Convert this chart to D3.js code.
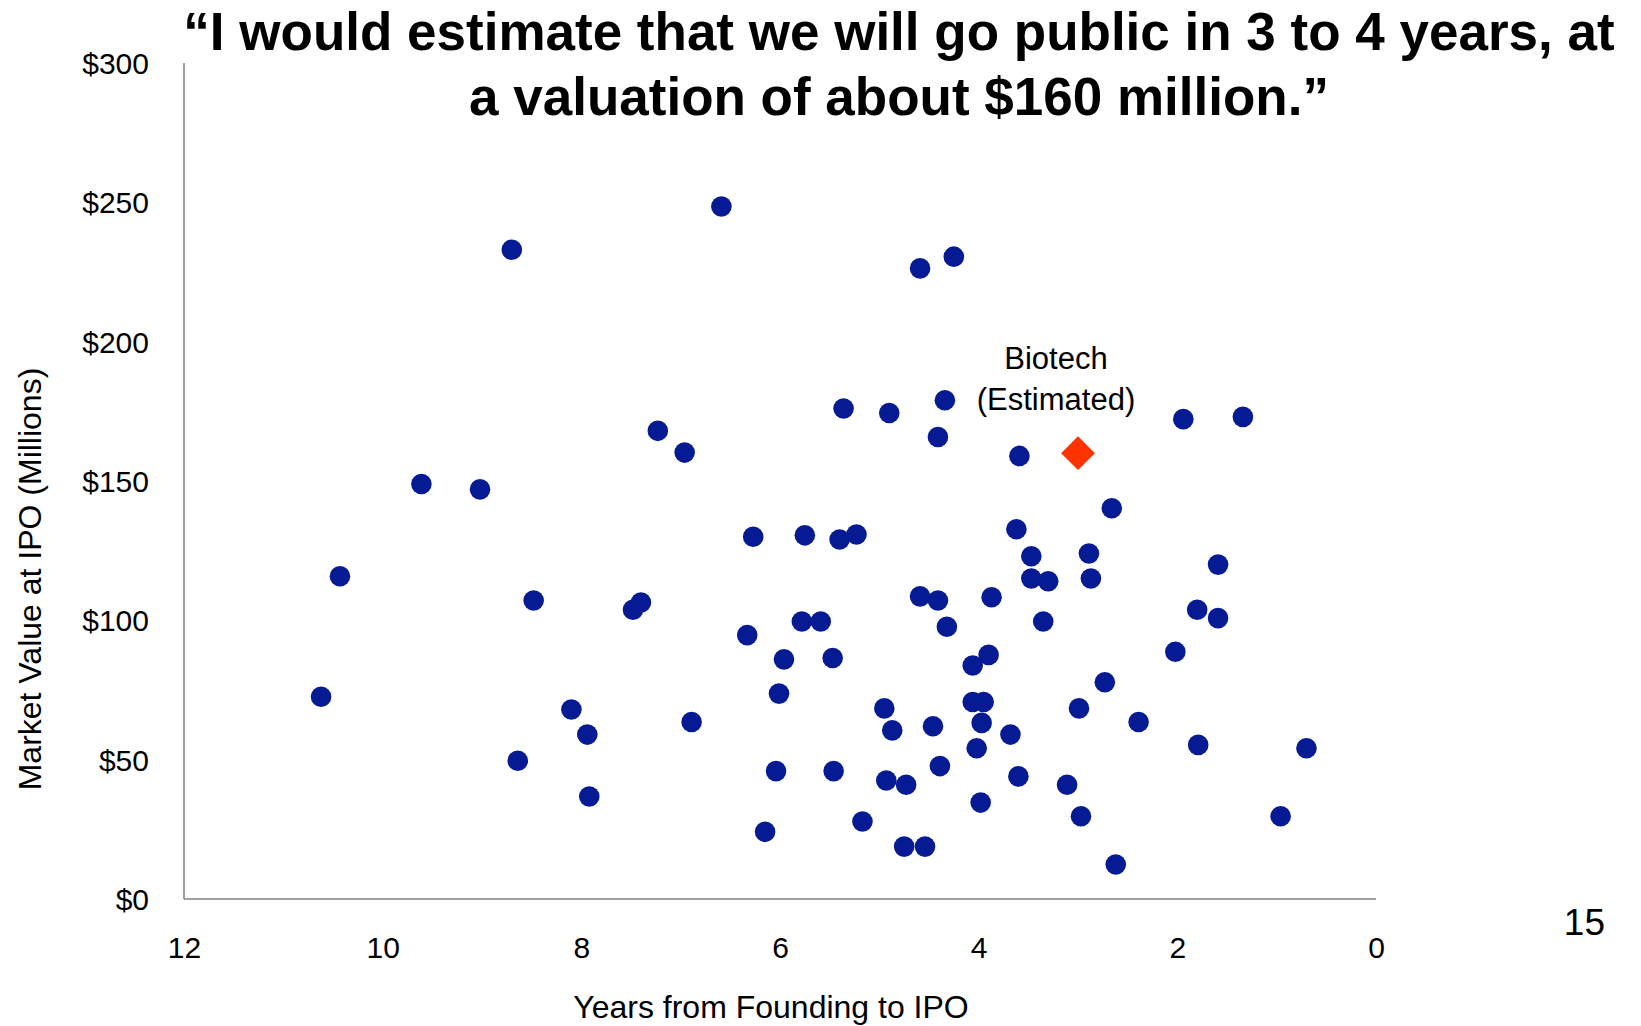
<!DOCTYPE html>
<html>
<head>
<meta charset="utf-8">
<script src="https://cdn.jsdelivr.net/npm/d3@7/dist/d3.min.js"></script>
<style>
  html, body { margin: 0; padding: 0; background: #fff; }
  svg { display: block; font-family: "Liberation Sans", Arial, sans-serif; }
</style>
</head>
<body>
<svg id="chart" width="1641" height="1026"></svg>
<script>
// Years from founding to IPO for each company
const years = [
  6.59, 8.70, 4.59, 4.25, 5.36, 4.90, 4.34, 4.41, 7.23, 6.96,
  9.61, 9.02, 3.59, 1.94, 1.34, 2.66, 10.43, 8.48, 7.48, 7.40,
  6.27, 5.75, 5.40, 5.23, 3.62, 3.47, 3.47, 3.30, 2.89, 2.87,
  1.59, 4.59, 4.41, 3.87, 4.32, 3.35, 1.80, 1.59, 2.02, 6.33,
  5.78, 5.59, 5.96, 5.47, 4.06, 3.90, 10.62, 8.10, 7.94, 6.89,
  6.01, 4.95, 4.87, 4.06, 3.95, 3.97, 4.46, 2.73, 2.99, 2.39,
  3.68, 4.02, 1.79, 0.70, 8.64, 7.92, 6.04, 5.46, 4.93, 4.73,
  4.39, 3.60, 3.11, 3.98, 2.97, 0.96, 6.15, 5.17, 4.75, 4.54,
  2.62
];
// Market value at IPO, $ millions (same order as years)
const values = [
  248.5, 233, 226.3, 230.5, 176, 174.4, 179, 165.8, 168, 160.2,
  148.9, 147, 159, 172.2, 173, 140.2, 115.8, 107.1, 103.8, 106.4,
  130, 130.5, 129, 130.8, 132.7, 123, 115, 114, 124, 115,
  120, 108.6, 107.1, 108.3, 97.7, 99.6, 103.8, 100.8, 88.7, 94.7,
  99.6, 99.6, 86, 86.5, 83.8, 87.6, 72.6, 68, 59, 63.5,
  73.7, 68.4, 60.5, 70.7, 70.7, 63.2, 62, 77.8, 68.4, 63.5,
  59, 54.1, 55.3, 54.1, 49.6, 36.8, 45.9, 45.9, 42.5, 41,
  47.7, 44, 41, 34.6, 29.7, 29.7, 24.1, 27.8, 18.8, 18.8,
  12.4
];
// Estimated biotech outcome
const estimateYears = [3];
const estimateValues = [160];
const estimateLabel = ["Biotech", "(Estimated)"];

const xTicks = [12, 10, 8, 6, 4, 2, 0];
const yTicks = [0, 50, 100, 150, 200, 250, 300];
const titleLines = [
  "\u201CI would estimate that we will go public in 3 to 4 years, at",
  "a valuation of about $160 million.\u201D"
];

const svg = d3.select("#chart");

const x = d3.scaleLinear().domain([12, 0]).range([184, 1376]);
const y = d3.scaleLinear().domain([0, 300]).range([899, 63]);

// Title
svg.append("g").selectAll("text")
  .data(titleLines)
  .join("text")
  .attr("x", 899)
  .attr("y", (d, i) => 50 + i * 65)
  .attr("text-anchor", "middle")
  .attr("font-weight", "bold")
  .attr("font-size", 53)
  .attr("fill", "#000")
  .text(d => d);

// Axis lines
svg.append("line")
  .attr("x1", x(12)).attr("x2", x(12))
  .attr("y1", y(300)).attr("y2", y(0))
  .attr("stroke", "#808080").attr("stroke-width", 1.5);
svg.append("line")
  .attr("x1", x(12)).attr("x2", x(0))
  .attr("y1", y(0)).attr("y2", y(0))
  .attr("stroke", "#808080").attr("stroke-width", 1.5);

// Y tick labels
const yAxis = d3.axisLeft(y).tickValues(yTicks).tickSize(0).tickPadding(35)
  .tickFormat(d => "$" + d);
const gy = svg.append("g").attr("transform", `translate(${x(12)},0)`).call(yAxis);
gy.select(".domain").remove();
gy.selectAll("text")
  .attr("font-family", "Liberation Sans, Arial, sans-serif")
  .attr("font-size", 30)
  .attr("fill", "#000")
  .attr("dy", "0.35em");

// X tick labels
const xAxis = d3.axisBottom(x).tickValues(xTicks).tickSize(0).tickPadding(38)
  .tickFormat(d3.format("d"));
const gx = svg.append("g").attr("transform", `translate(0,${y(0)})`).call(xAxis);
gx.select(".domain").remove();
gx.selectAll("text")
  .attr("font-family", "Liberation Sans, Arial, sans-serif")
  .attr("font-size", 30)
  .attr("fill", "#000");

// Axis titles
svg.append("text")
  .attr("x", 771).attr("y", 1018)
  .attr("text-anchor", "middle")
  .attr("font-size", 32)
  .attr("fill", "#000")
  .text("Years from Founding to IPO");
svg.append("text")
  .attr("transform", "translate(41,579) rotate(-90)")
  .attr("text-anchor", "middle")
  .attr("font-size", 32)
  .attr("fill", "#000")
  .text("Market Value at IPO (Millions)");

// Company points
const pts = years.map((yr, i) => ({ yr, v: values[i] }));
svg.append("g").selectAll("circle")
  .data(pts)
  .join("circle")
  .attr("cx", d => x(d.yr))
  .attr("cy", d => y(d.v))
  .attr("r", 10.3)
  .attr("fill", "#061b93");

// Estimated biotech point
const est = estimateYears.map((yr, i) => ({ yr, v: estimateValues[i] }));
svg.append("g").selectAll("path")
  .data(est)
  .join("path")
  .attr("transform", d => `translate(${x(d.yr)},${y(d.v)})`)
  .attr("d", d3.symbol().type(d3.symbolDiamond2).size(730))
  .attr("fill", "#ff3300");

svg.append("g").selectAll("text")
  .data(estimateLabel)
  .join("text")
  .attr("x", 1056)
  .attr("y", (d, i) => 369 + i * 41)
  .attr("text-anchor", "middle")
  .attr("font-size", 31)
  .attr("fill", "#000")
  .text(d => d);

// Page number
svg.append("text")
  .attr("x", 1605).attr("y", 935)
  .attr("text-anchor", "end")
  .attr("font-size", 37)
  .attr("fill", "#000")
  .text("15");
</script>
</body>
</html>
